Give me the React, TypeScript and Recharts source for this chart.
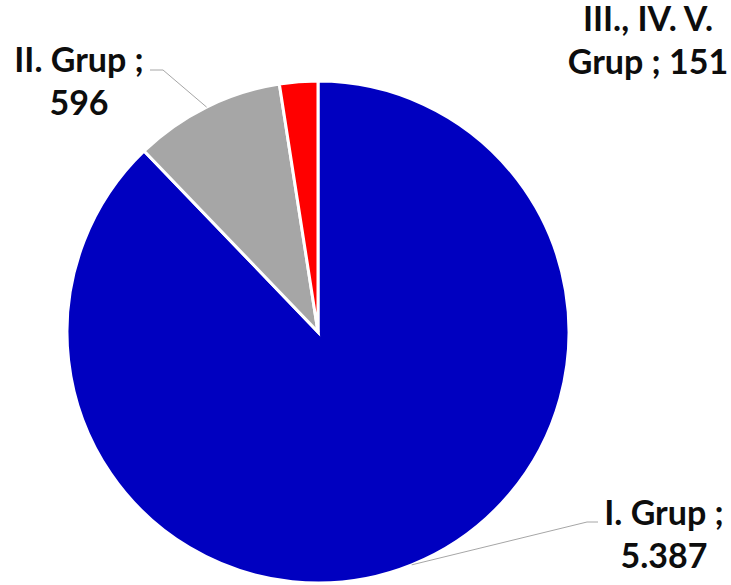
import React from 'react'
import { PieChart, Pie, Cell } from 'recharts'

// grup adları ve değerleri
const groups = ['I. Grup', 'II. Grup', 'III., IV. V. Grup']
const counts = [5387, 596, 151]
const colors = ['#0000C0', '#A6A6A6', '#FF0000']

// label placement (text centre x, first baseline y, leader elbow)
const labelLayout = [
  { x: 664, y: 525, elbowX: 587, elbowY: 522, line: true },
  { x: 79, y: 72, elbowX: 163, elbowY: 70, line: true },
  { x: 648, y: 31, elbowX: 0, elbowY: 0, line: false },
]

const RAD = Math.PI / 180
const fmt = (n: number) => String(n).replace(/\B(?=(\d{3})+(?!\d))/g, '.')

const wrap = (s: string, max = 12) => {
  const out: string[] = []
  let cur = ''
  s.split(' ').forEach((w) => {
    if (!cur) cur = w
    else if ((cur + ' ' + w).length <= max) cur += ' ' + w
    else { out.push(cur); cur = w }
  })
  if (cur) out.push(cur)
  return out
}

const data = groups.map((name, i) => ({ name, value: counts[i] }))

const renderLabel = (p: any) => {
  const { cx, cy, midAngle, outerRadius, index, name, value } = p
  const lay = labelLayout[index]
  const px = cx + outerRadius * Math.cos(-midAngle * RAD)
  const py = cy + outerRadius * Math.sin(-midAngle * RAD)
  const lines = wrap(`${name} ; ${fmt(value)}`)
  const textSide = lay.x > cx ? 11 : -13
  return (
    <g key={`lbl-${index}`}>
      {lay.line && (
        <polyline
          points={`${px},${py} ${lay.elbowX},${lay.elbowY} ${lay.elbowX + textSide},${lay.elbowY}`}
          fill="none"
          stroke="#A6A6A6"
          strokeWidth={1}
        />
      )}
      <text
        x={lay.x}
        y={lay.y}
        textAnchor="middle"
        fill="#0D0D0D"
        fontFamily="Lato, 'Open Sans', sans-serif"
        fontWeight={700}
        fontSize={34}
      >
        {lines.map((l, i) => (
          <tspan key={i} x={lay.x} dy={i === 0 ? 0 : 43}>{l}</tspan>
        ))}
      </text>
    </g>
  )
}

export default function App() {
  return (
    <div style={{ position: 'absolute', left: 0, top: 0, width: 731, height: 585, background: '#fff' }}>
      <PieChart width={731} height={585} margin={{ top: 0, right: 0, bottom: 0, left: 0 }}>
        <Pie
          data={data}
          dataKey="value"
          nameKey="name"
          cx={318}
          cy={332}
          outerRadius={251}
          startAngle={90}
          endAngle={-270}
          stroke="#FFFFFF"
          strokeWidth={3}
          label={renderLabel}
          labelLine={false}
          isAnimationActive={false}
        >
          {data.map((d, i) => (
            <Cell key={d.name} fill={colors[i]} />
          ))}
        </Pie>
      </PieChart>
    </div>
  )
}
